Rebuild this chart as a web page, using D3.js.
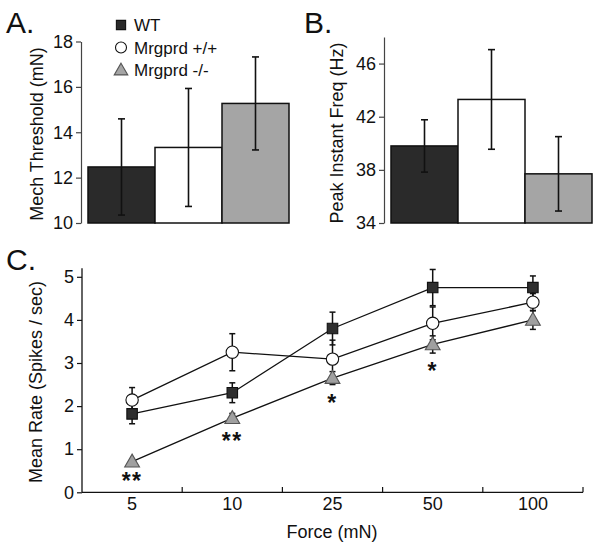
<!DOCTYPE html>
<html>
<head>
<meta charset="utf-8">
<script src="https://cdn.jsdelivr.net/npm/d3@7"></script>
<style>
  html, body { margin: 0; padding: 0; background: #fff; }
  svg { display: block; font-family: "Liberation Sans", Arial, sans-serif; }
</style>
</head>
<body>
<svg id="chart" width="600" height="548"></svg>
<script>
// ---------- data ----------
const groups = ["WT", "Mrgprd +/+", "Mrgprd -/-"];
const threshMean = [12.47, 13.33, 15.27];
const threshErr = [2.12, 2.6, 2.05];
const freqMean = [39.8, 43.3, 37.7];
const freqErr = [1.97, 3.75, 2.8];
const threshTicks = [10, 12, 14, 16, 18];
const freqTicks = [34, 38, 42, 46];
const forces = ["5", "10", "25", "50", "100"];
const rateWT = [1.82, 2.31, 3.80, 4.75, 4.75];
const rateWTErr = [0.23, 0.23, 0.38, 0.42, 0.27];
const rateWP = [2.14, 3.25, 3.09, 3.92, 4.41];
const rateWPErr = [0.29, 0.43, 0.44, 0.38, 0.20];
const rateKO = [0.71, 1.72, 2.65, 3.43, 4.00];
const rateKOErr = [0.03, 0.11, 0.15, 0.20, 0.22];
const rateTicks = [0, 1, 2, 3, 4, 5];
const stars = ["**", "**", "*", "*", ""];

const fills = ["#2a2a2a", "#ffffff", "#a5a5a5"];
const FONT = "Liberation Sans, Arial, sans-serif";
const svg = d3.select("#chart");

function drawBarPanel(opts) {
  const g = svg.append("g");
  const x = d3.scaleBand().domain(groups).range(opts.xRange).padding(0);
  const y = d3.scaleLinear().domain(opts.domain).range(opts.yRange);
  const ax = g.append("g")
    .attr("transform", `translate(${opts.axisX},0)`)
    .call(d3.axisLeft(y).tickValues(opts.ticks).tickSize(5).tickPadding(3).tickSizeOuter(0));
  ax.select(".domain").attr("stroke", "#444").attr("stroke-width", 1.2);
  ax.selectAll(".tick line").attr("stroke", "#444").attr("stroke-width", 1.2);
  ax.selectAll("text").attr("font-size", 18).attr("fill", "#111").style("font-family", FONT);

  g.selectAll("rect.bar").data(groups).enter().append("rect")
    .attr("x", d => x(d))
    .attr("width", x.bandwidth())
    .attr("y", (d, i) => y(opts.mean[i]))
    .attr("height", (d, i) => y(opts.domain[0]) - y(opts.mean[i]))
    .attr("fill", (d, i) => fills[i])
    .attr("stroke", "#111").attr("stroke-width", 1.5);

  const eb = g.selectAll("g.err").data(groups).enter().append("g")
    .attr("stroke", "#111").attr("stroke-width", 1.6);
  const mid = d => x(d) + x.bandwidth() / 2;
  eb.append("line")
    .attr("x1", mid).attr("x2", mid)
    .attr("y1", (d, i) => y(opts.mean[i] - opts.err[i]))
    .attr("y2", (d, i) => y(opts.mean[i] + opts.err[i]));
  eb.append("line")
    .attr("x1", d => mid(d) - 3.5).attr("x2", d => mid(d) + 3.5)
    .attr("y1", (d, i) => y(opts.mean[i] - opts.err[i]))
    .attr("y2", (d, i) => y(opts.mean[i] - opts.err[i]));
  eb.append("line")
    .attr("x1", d => mid(d) - 3.5).attr("x2", d => mid(d) + 3.5)
    .attr("y1", (d, i) => y(opts.mean[i] + opts.err[i]))
    .attr("y2", (d, i) => y(opts.mean[i] + opts.err[i]));

  g.append("text")
    .attr("transform", `translate(${opts.labelX},${opts.labelY}) rotate(-90)`)
    .attr("text-anchor", "middle").attr("font-size", 18).attr("fill", "#111")
    .text(opts.label);
  g.append("text").attr("x", opts.letterX).attr("y", 33)
    .attr("font-size", 30).attr("fill", "#111").text(opts.letter);
}

drawBarPanel({
  xRange: [88, 289], domain: [10, 18], yRange: [223, 41.5], axisX: 81,
  ticks: threshTicks, mean: threshMean, err: threshErr,
  label: "Mech Threshold (mN)", labelX: 43, labelY: 134, letter: "A.", letterX: 6
});
drawBarPanel({
  xRange: [391, 592], domain: [34, 48], yRange: [223, 37], axisX: 384,
  ticks: freqTicks, mean: freqMean, err: freqErr,
  label: "Peak Instant Freq (Hz)", labelX: 343, labelY: 133, letter: "B.", letterX: 304
});

// legend
const legendSyms = [d3.symbolSquare, d3.symbolCircle, d3.symbolTriangle];
const legendSizes = [85, 95, 80];
const leg = svg.append("g");
groups.forEach((name, i) => {
  const yy = 25 + i * 22.5;
  leg.append("path")
    .attr("d", d3.symbol().type(legendSyms[i]).size(legendSizes[i])())
    .attr("transform", `translate(121,${yy + (i === 2 ? 1 : 0)})`)
    .attr("fill", fills[i])
    .attr("stroke", i === 2 ? "#555" : "#111")
    .attr("stroke-width", 1.1);
  leg.append("text").attr("x", 134).attr("y", yy + 6)
    .attr("font-size", 17).attr("fill", "#111").text(name);
});

// ---------- panel C ----------
const gc = svg.append("g");
const xc = d3.scaleBand().domain(forces).range([82, 583]).padding(0);
const yc = d3.scaleLinear().domain([0, 5]).range([492.3, 276.8]);
const cx = d => xc(d) + xc.bandwidth() / 2;

const xAxis = gc.append("g").attr("transform", "translate(0,492.3)")
  .call(d3.axisBottom(xc).tickSize(0).tickPadding(5));
xAxis.select(".domain").remove();
gc.append("line").attr("x1", 82).attr("x2", 583).attr("y1", 492.3).attr("y2", 492.3)
  .attr("stroke", "#111").attr("stroke-width", 1.3);
gc.selectAll("line.bt").data(forces).enter().append("line")
  .attr("x1", d => xc(d) + xc.bandwidth()).attr("x2", d => xc(d) + xc.bandwidth())
  .attr("y1", 492.3).attr("y2", 487)
  .attr("stroke", "#111").attr("stroke-width", 1.2);
xAxis.selectAll("text").attr("font-size", 18).attr("fill", "#111").style("font-family", FONT);

const yAxis = gc.append("g").attr("transform", "translate(82,0)")
  .call(d3.axisLeft(yc).tickValues(rateTicks).tickFormat(d3.format("d")).tickSize(5).tickPadding(3).tickSizeOuter(0));
yAxis.select(".domain").attr("d", `M0,${yc(5.2)}V${yc(0)}`).attr("stroke", "#111").attr("stroke-width", 1.3);
yAxis.selectAll(".tick line").attr("stroke", "#111").attr("stroke-width", 1.2);
yAxis.selectAll("text").attr("font-size", 18).attr("fill", "#111").style("font-family", FONT);

gc.append("text").attr("x", 332).attr("y", 538).attr("text-anchor", "middle")
  .attr("font-size", 18).attr("fill", "#111").text("Force (mN)");
gc.append("text").attr("transform", "translate(42,382) rotate(-90)")
  .attr("text-anchor", "middle").attr("font-size", 18).attr("fill", "#111")
  .text("Mean Rate (Spikes / sec)");
gc.append("text").attr("x", 6).attr("y", 270).attr("font-size", 30).attr("fill", "#111").text("C.");

const series = [
  { vals: rateWT, err: rateWTErr, sym: d3.symbolSquare, size: 110, fill: "#2e2e2e", stroke: "#111" },
  { vals: rateWP, err: rateWPErr, sym: d3.symbolCircle, size: 120, fill: "#ffffff", stroke: "#111" },
  { vals: rateKO, err: rateKOErr, sym: d3.symbolTriangle, size: 95, fill: "#a0a0a0", stroke: "#555" }
];
const line = d3.line().x((d, i) => cx(forces[i])).y(d => yc(d));

series.forEach(s => {
  gc.append("path").datum(s.vals).attr("d", line)
    .attr("fill", "none").attr("stroke", "#111").attr("stroke-width", 1.3);
});
series.forEach(s => {
  const e = gc.append("g").attr("stroke", "#111").attr("stroke-width", 1.5);
  forces.forEach((f, i) => {
    const lo = yc(s.vals[i] - s.err[i]), hi = yc(s.vals[i] + s.err[i]);
    e.append("line").attr("x1", cx(f)).attr("x2", cx(f)).attr("y1", lo).attr("y2", hi);
    e.append("line").attr("x1", cx(f) - 3).attr("x2", cx(f) + 3).attr("y1", lo).attr("y2", lo);
    e.append("line").attr("x1", cx(f) - 3).attr("x2", cx(f) + 3).attr("y1", hi).attr("y2", hi);
  });
});
series.forEach(s => {
  gc.selectAll(null).data(s.vals).enter().append("path")
    .attr("d", d3.symbol().type(s.sym).size(s.size)())
    .attr("transform", (d, i) => `translate(${cx(forces[i])},${yc(d) + (s.sym === d3.symbolTriangle ? 1 : 0)})`)
    .attr("fill", s.fill).attr("stroke", s.stroke).attr("stroke-width", 1.1);
});

gc.selectAll("text.star").data(stars).enter().append("text")
  .attr("class", "star")
  .attr("x", (d, i) => cx(forces[i]))
  .attr("y", (d, i) => Math.min(yc(rateKO[i] - rateKOErr[i]) + 26, yc(0) - 3.5))
  .attr("text-anchor", "middle").attr("font-size", 23).attr("font-weight", "bold")
  .attr("letter-spacing", 1.5)
  .attr("fill", "#111").text(d => d);
</script>
</body>
</html>
